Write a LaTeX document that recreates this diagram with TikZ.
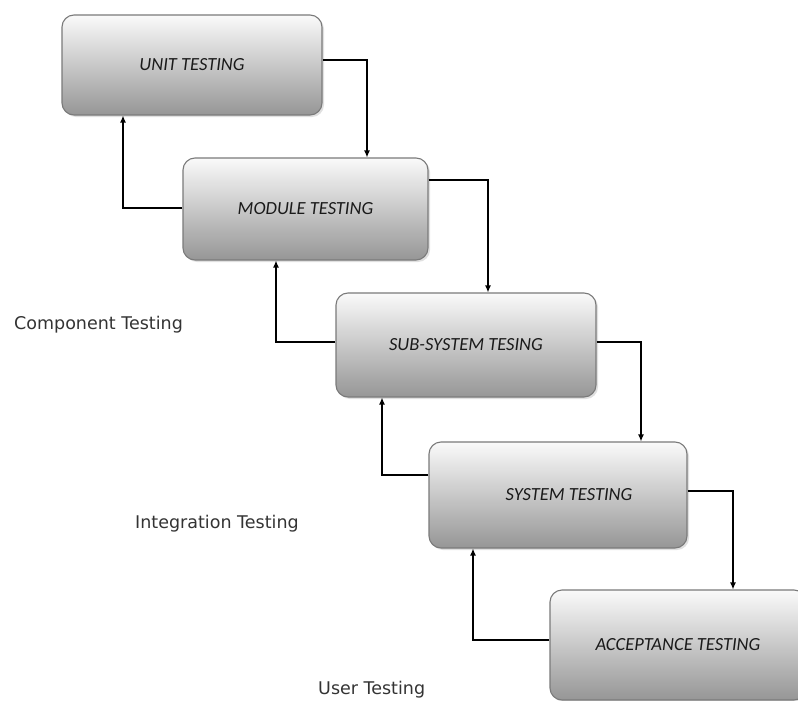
\documentclass[tikz,border=0pt]{standalone}
\usepackage{fontspec}
\setmainfont{Carlito}
\newfontfamily\labelfont{DejaVu Sans}
\usetikzlibrary{shadows,arrows.meta}
\definecolor{boxtop}{HTML}{FAFAFA}
\definecolor{boxbot}{HTML}{969696}
\definecolor{boxline}{HTML}{7A7A7A}
\definecolor{boxtext}{HTML}{1A1A1A}
\definecolor{labtext}{HTML}{333333}
\tikzset{
  stagebox/.style={draw=boxline, line width=1.1pt, rounded corners=12pt,
    top color=boxtop, bottom color=boxbot,
    drop shadow={shadow xshift=2pt, shadow yshift=-2pt, fill=black!30, opacity=0.4},
    inner sep=0pt, font=\fontsize{18.5}{22}\selectfont\itshape, text=boxtext},
  flow/.style={draw=black, line width=1.2pt, -{Latex[length=7pt,width=6pt]}},
  phase/.style={font=\labelfont\fontsize{17.5}{20}\selectfont, text=labtext, inner sep=0pt}
}
\begin{document}
\begin{tikzpicture}[x=1pt,y=-1pt]
\useasboundingbox (0,0) rectangle (798,701);
\clip (0,0) rectangle (798,701);
\node[stagebox, minimum width=260pt, minimum height=100pt] (b1) at (192,65) {UNIT TESTING};
\node[stagebox, minimum width=245pt, minimum height=102pt] (b2) at (305.5,209) {MODULE TESTING};
\node[stagebox, minimum width=260pt, minimum height=104pt] (b3) at (466,345) {SUB-SYSTEM TESING};
\node[stagebox, minimum width=258pt, minimum height=106pt] (b4) at (558,495) {\hspace*{22pt}SYSTEM TESTING};
\node[stagebox, minimum width=256pt, minimum height=110pt] (b5) at (678,645) {ACCEPTANCE TESTING};
% forward arrows
\draw[flow] ([yshift=5pt]b1.east) -| ([xshift=61.5pt]b2.north);
\draw[flow] ([yshift=29pt]b2.east) -| ([xshift=22pt]b3.north);
\draw[flow] ([yshift=3pt]b3.east) -| ([xshift=83pt]b4.north);
\draw[flow] ([yshift=4pt]b4.east) -| ([xshift=55pt]b5.north);
% feedback arrows
\draw[flow] ([yshift=1pt]b2.west) -| ([xshift=-69pt]b1.south);
\draw[flow] ([yshift=3pt]b3.west) -| ([xshift=-29.5pt]b2.south);
\draw[flow] ([yshift=20pt]b4.west) -| ([xshift=-84pt]b3.south);
\draw[flow] ([yshift=5pt]b5.west) -| ([xshift=-85pt]b4.south);
% phase labels
\node[phase, anchor=west] (l1) at (14,325) {Component Testing};
\node[phase, anchor=west] (l2) at (135,524) {Integration Testing};
\node[phase, anchor=west] (l3) at (318,690) {User Testing};
\end{tikzpicture}
\end{document}
